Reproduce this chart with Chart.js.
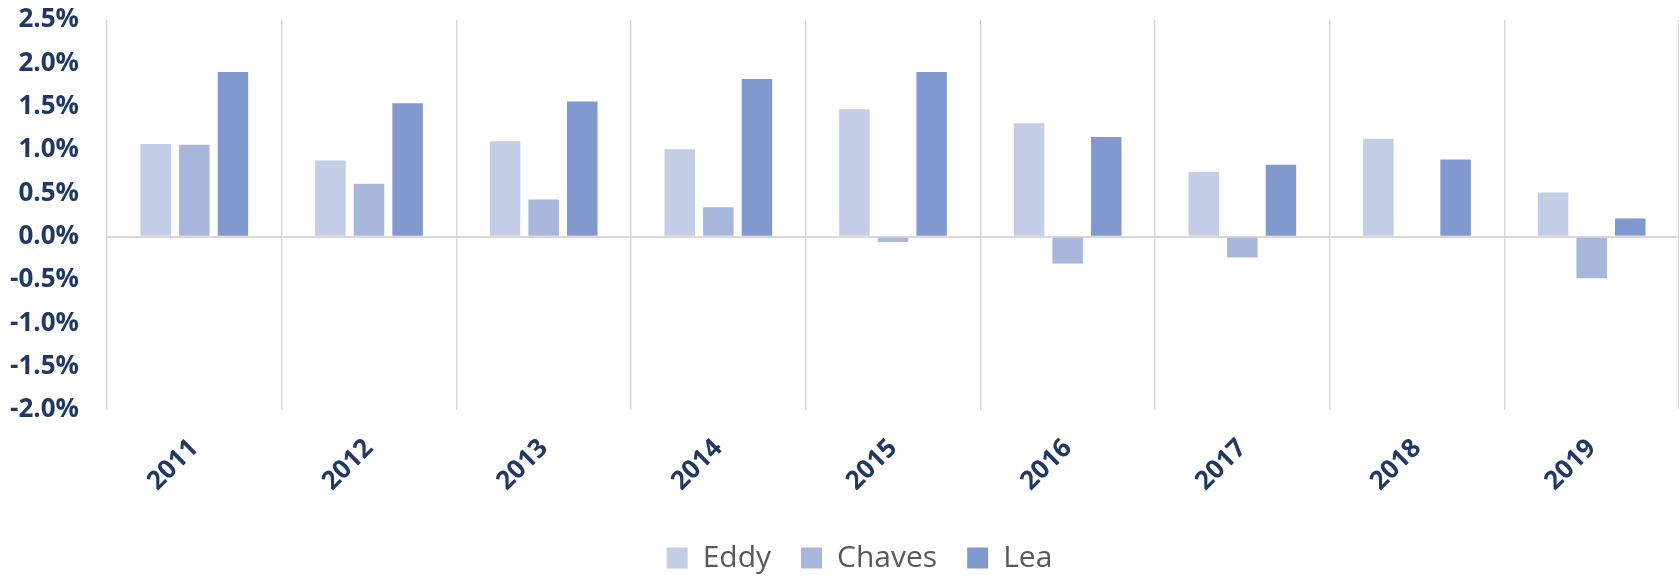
<!DOCTYPE html>
<html>
<head>
<meta charset="utf-8">
<script src="https://cdn.jsdelivr.net/npm/chart.js@4"></script>
<style>
  html, body { margin: 0; padding: 0; background: #ffffff; }
  #wrap { width: 1679px; height: 578px; }
</style>
</head>
<body>
<div id="wrap"><canvas id="c" width="1679" height="578"></canvas></div>
<script>
const categories = ['2011', '2012', '2013', '2014', '2015', '2016', '2017', '2018', '2019'];
const eddy   = [1.07, 0.88, 1.10, 1.01, 1.47, 1.31, 0.75, 1.13, 0.51];
const chaves = [1.06, 0.61, 0.43, 0.34, -0.06, -0.31, -0.24, 0.00, -0.48];
const lea    = [1.90, 1.54, 1.56, 1.82, 1.90, 1.15, 0.83, 0.89, 0.21];
const yMin = -2.0, yMax = 2.5, yStep = 0.5;

const tickColor = '#1F3864';
const gridColor = '#D9D9D9';

const legendShift = {
  id: 'legendShift',
  afterLayout(chart) {
    const lg = chart.legend;
    if (lg) { lg.left += 20; lg.right += 20; lg.top += 5; lg.bottom += 5; }
  }
};

new Chart(document.getElementById('c'), {
  type: 'bar',
  data: {
    labels: categories,
    datasets: [
      { label: 'Eddy',   data: eddy,   backgroundColor: '#C3CDE6' },
      { label: 'Chaves', data: chaves, backgroundColor: '#A8B6DB' },
      { label: 'Lea',    data: lea,    backgroundColor: '#8299CF' }
    ]
  },
  plugins: [legendShift],
  options: {
    responsive: false,
    animation: false,
    devicePixelRatio: 1,
    layout: { padding: { top: 20, right: 0, bottom: 0, left: 0 } },
    datasets: { bar: { categoryPercentage: 0.663, barPercentage: 0.79, borderWidth: 0 } },
    plugins: {
      legend: {
        position: 'bottom',
        labels: {
          boxWidth: 21, boxHeight: 21, padding: 30,
          color: '#595959',
          font: { family: 'Open Sans', size: 30 }
        }
      },
      tooltip: { enabled: false }
    },
    scales: {
      x: {
        grid: { display: true, offset: true, drawTicks: false, color: gridColor, lineWidth: 1.5 },
        border: { display: false },
        ticks: {
          autoSkip: false, minRotation: 45, maxRotation: 45, padding: 23,
          color: tickColor,
          font: { family: 'Open Sans', size: 26, weight: 'bold' }
        },
        afterFit: (s) => { s.height = 98; }
      },
      y: {
        min: yMin, max: yMax,
        grid: {
          drawTicks: false,
          color: (ctx) => (ctx.tick && ctx.tick.value === 0) ? gridColor : 'rgba(0,0,0,0)',
          lineWidth: (ctx) => (ctx.tick && ctx.tick.value === 0) ? 2 : 0
        },
        border: { display: false },
        ticks: {
          stepSize: yStep, padding: 28,
          color: tickColor,
          font: { family: 'Open Sans', size: 26, weight: 'bold' },
          callback: (v) => v.toFixed(1) + '%'
        },
        afterFit: (s) => { s.width = 107; s.paddingTop = 0; s.paddingBottom = 0; }
      }
    }
  }
});
</script>
</body>
</html>
